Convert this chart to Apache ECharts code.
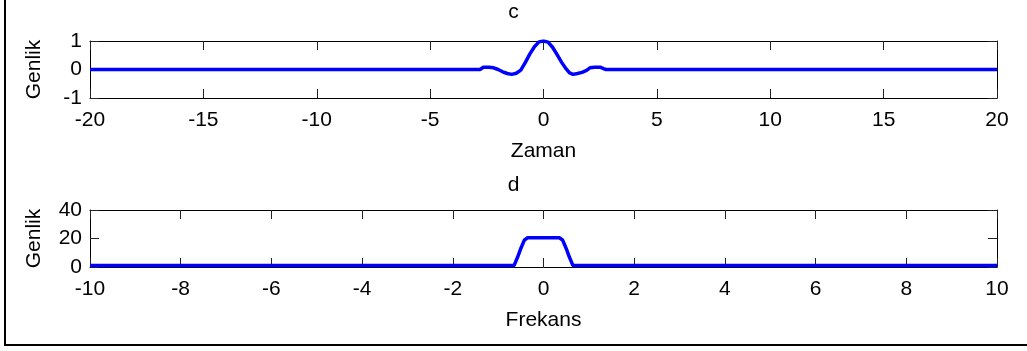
<!DOCTYPE html>
<html>
<head>
<meta charset="utf-8">
<script src="https://cdn.jsdelivr.net/npm/echarts@6/dist/echarts.min.js"></script>
<style>
  html, body { margin: 0; padding: 0; background: #fff; }
  #chart { width: 1027px; height: 351px; }
</style>
</head>
<body>
<div id="chart"></div>
<script>
// Signal c: time-domain pulse (Zaman vs Genlik)
const zamanT  = [-20, -2.8, -2.65, -2.4, -2.2, -2.0, -1.8, -1.6, -1.4, -1.2, -1.0, -0.8, -0.6, -0.4, -0.2, 0, 0.2, 0.4, 0.6, 0.8, 1.0, 1.15, 1.3, 1.5, 1.7, 1.9, 2.05, 2.25, 2.5, 2.65, 2.75, 20];
const genlikC = [0, 0, 0.08, 0.08, 0.06, 0.0, -0.08, -0.14, -0.17, -0.13, -0.02, 0.25, 0.55, 0.8, 0.97, 1.0, 0.96, 0.78, 0.52, 0.25, 0.02, -0.12, -0.17, -0.14, -0.1, -0.03, 0.06, 0.08, 0.08, 0.03, 0, 0];

// Signal d: spectrum (Frekans vs Genlik)
const frekansF = [-10, -0.65, -0.57, -0.5, -0.42, -0.35, 0.35, 0.42, 0.5, 0.57, 0.65, 10];
const genlikD  = [1, 1, 7, 13, 19, 20.5, 20.5, 19, 13, 7, 1, 1];

// Axis ranges / tick steps: [min, max, interval]
const xRangeC = [-20, 20, 5];
const yRangeC = [-1, 1, 1];
const xRangeD = [-10, 10, 2];
const yRangeD = [0, 40, 20];

const FONT = "'Liberation Sans', Arial, Helvetica, sans-serif";
const FS = 21;
const lineStyleAxis = { color: '#000', width: 1 };
const tickStyle = { show: true, inside: true, length: 9, lineStyle: { color: '#222', width: 1 } };
const labelStyle = { color: '#000', fontSize: FS, fontFamily: FONT };

function zip(a, b) { return a.map((v, i) => [v, b[i]]); }

function xAxes(gridIndex, range, name) {
  return [
    {
      type: 'value', gridIndex, position: 'bottom',
      min: range[0], max: range[1], interval: range[2],
      axisLine: { show: true, onZero: false, lineStyle: lineStyleAxis },
      axisTick: tickStyle,
      axisLabel: Object.assign({ margin: 12 }, labelStyle),
      splitLine: { show: false },
      name, nameLocation: 'middle', nameGap: 43,
      nameTextStyle: { color: '#000', fontSize: FS, fontFamily: FONT }
    },
    {
      type: 'value', gridIndex, position: 'top',
      min: range[0], max: range[1], interval: range[2],
      axisLine: { show: true, onZero: false, lineStyle: lineStyleAxis },
      axisTick: tickStyle,
      axisLabel: { show: false },
      splitLine: { show: false }
    }
  ];
}

function yAxes(gridIndex, range) {
  return [
    {
      type: 'value', gridIndex, position: 'left',
      min: range[0], max: range[1], interval: range[2],
      axisLine: { show: true, onZero: false, lineStyle: lineStyleAxis },
      axisTick: tickStyle,
      axisLabel: Object.assign({ margin: 8 }, labelStyle),
      splitLine: { show: false },
      name: 'Genlik', nameLocation: 'middle', nameGap: 45, nameRotate: 90,
      nameTextStyle: { color: '#000', fontSize: FS, fontFamily: FONT }
    },
    {
      type: 'value', gridIndex, position: 'right',
      min: range[0], max: range[1], interval: range[2],
      axisLine: { show: true, onZero: false, lineStyle: lineStyleAxis },
      axisTick: tickStyle,
      axisLabel: { show: false },
      splitLine: { show: false }
    }
  ];
}

const chart = echarts.init(document.getElementById('chart'), null, { renderer: 'canvas' });

chart.setOption({
  animation: false,
  backgroundColor: '#fff',
  title: [
    { text: 'c', left: 'center', top: -3, textStyle: { color: '#000', fontSize: FS, fontWeight: 'normal', fontFamily: FONT } },
    { text: 'd', left: 'center', top: 170, textStyle: { color: '#000', fontSize: FS, fontWeight: 'normal', fontFamily: FONT } }
  ],
  grid: [
    { left: 90, right: 30, top: 41, height: 57 },
    { left: 90, right: 30, top: 210, height: 57 }
  ],
  xAxis: [...xAxes(0, xRangeC, 'Zaman'), ...xAxes(1, xRangeD, 'Frekans')],
  yAxis: [...yAxes(0, yRangeC), ...yAxes(1, yRangeD)],
  series: [
    {
      type: 'line', xAxisIndex: 0, yAxisIndex: 0,
      data: zip(zamanT, genlikC),
      showSymbol: false, symbol: 'none',
      lineStyle: { color: '#0000ff', width: 3.5 },
      clip: true
    },
    {
      type: 'line', xAxisIndex: 2, yAxisIndex: 2,
      data: zip(frekansF, genlikD),
      showSymbol: false, symbol: 'none',
      lineStyle: { color: '#0000ff', width: 3.5 },
      clip: true
    }
  ],
  graphic: [
    // figure frame (left and bottom edges)
    { type: 'line', shape: { x1: 5, y1: 0, x2: 5, y2: 345 }, style: { stroke: '#000', lineWidth: 2 } },
    { type: 'line', shape: { x1: 4, y1: 345, x2: 1027, y2: 345 }, style: { stroke: '#000', lineWidth: 2 } }
  ]
});
</script>
</body>
</html>
